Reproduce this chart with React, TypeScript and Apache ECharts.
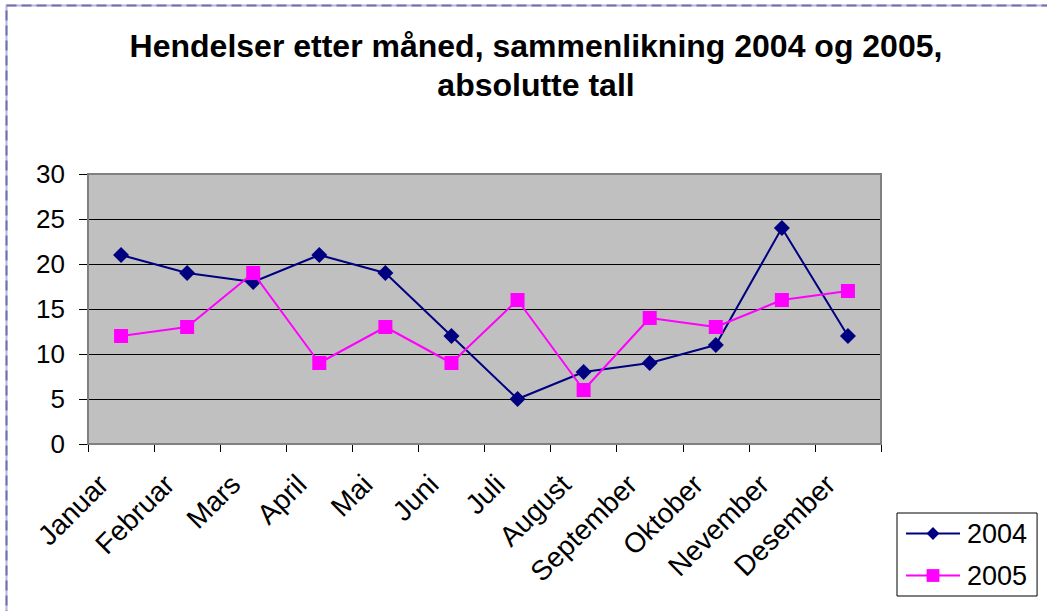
import React, { useEffect, useRef } from "react";
import * as echarts from "echarts";

const titleLines = ["Hendelser etter måned, sammenlikning 2004 og 2005,", "absolutte tall"];
const months = ["Januar", "Februar", "Mars", "April", "Mai", "Juni", "Juli", "August", "September", "Oktober", "Nevember", "Desember"];
const seriesNames = ["2004", "2005"];
const values2004 = [21, 19, 18, 21, 19, 12, 5, 8, 9, 11, 24, 12];
const values2005 = [12, 13, 19, 9, 13, 9, 16, 6, 14, 13, 16, 17];

const FONT = "'Liberation Sans', Arial, sans-serif";

export default function App() {
  const ref = useRef<HTMLDivElement>(null);
  useEffect(() => {
    if (!ref.current) return;
    const chart = echarts.init(ref.current, undefined, { renderer: "svg" });
    const gridLeft = 88, gridTop = 174, gridRight = 881, gridBottom = 444;
    chart.setOption({
      animation: false,
      backgroundColor: "#ffffff",
      textStyle: { fontFamily: FONT },
      title: {
        text: titleLines.join("\n"),
        left: 531,
        top: 21,
        textAlign: "center",
        textStyle: { fontFamily: FONT, fontSize: 32, fontWeight: "bold", color: "#000", lineHeight: 39 },
      },
      legend: {
        orient: "vertical",
        left: 897,
        top: 513,
        width: 141,
        padding: [7, 10, 7, 8],
        itemGap: 15,
        itemWidth: 54,
        itemHeight: 16,
        borderColor: "#000",
        borderWidth: 1,
        backgroundColor: "#fff",
        data: seriesNames,
        textStyle: { fontFamily: FONT, fontSize: 27, color: "#000", padding: [0, 0, 0, 2] },
      },
      grid: {
        left: gridLeft,
        top: gridTop,
        right: 1047 - gridRight,
        bottom: 611 - gridBottom,
        show: true,
        backgroundColor: "#C0C0C0",
        borderWidth: 0,
      },
      xAxis: {
        type: "category",
        data: months,
        boundaryGap: true,
        axisLine: { show: true, lineStyle: { color: "#000", width: 1.5 } },
        axisTick: { show: true, length: 8, lineStyle: { color: "#000" } },
        axisLabel: {
          rotate: 45,
          fontFamily: FONT,
          fontSize: 28,
          color: "#000",
          margin: 18,
          interval: 0,
          padding: [0, 25, 0, 0],
        },
      },
      yAxis: {
        type: "value",
        min: 0,
        max: 30,
        interval: 5,
        axisLine: { show: false },
        axisTick: { show: true, length: 9, lineStyle: { color: "#000" } },
        axisLabel: { fontFamily: FONT, fontSize: 26, color: "#000", margin: 23 },
        splitLine: { show: true, lineStyle: { color: "#000", width: 1 } },
      },
      series: [
        {
          name: seriesNames[0],
          type: "line",
          data: values2004,
          symbol: "diamond",
          symbolSize: 16,
          color: "#000080",
          lineStyle: { color: "#000080", width: 2 },
          itemStyle: { color: "#000080" },
          z: 3,
        },
        {
          name: seriesNames[1],
          type: "line",
          data: values2005,
          symbol: "rect",
          symbolSize: 14,
          color: "#FF00FF",
          lineStyle: { color: "#FF00FF", width: 2 },
          itemStyle: { color: "#FF00FF" },
          z: 4,
        },
      ],
      graphic: [
        {
          type: "rect",
          z: 1,
          silent: true,
          shape: { x: gridLeft, y: gridTop, width: gridRight - gridLeft, height: gridBottom - gridTop },
          style: { fill: "none", stroke: "#808080", lineWidth: 2 },
        },
        {
          type: "rect",
          silent: true,
          shape: { x: 6.5, y: 5.5, width: 1100, height: 700 },
          style: { fill: "none", stroke: "#b8b8dc", lineWidth: 2 },
        },
        {
          type: "rect",
          silent: true,
          shape: { x: 6.5, y: 5.5, width: 1100, height: 700 },
          style: { fill: "none", stroke: "#7070b0", lineWidth: 2, lineDash: [10, 5] },
        },
      ],
    });
    return () => chart.dispose();
  }, []);
  return (
    <div
      ref={ref}
      style={{ position: "fixed", left: 0, top: 0, width: 1047, height: 611 }}
    />
  );
}
